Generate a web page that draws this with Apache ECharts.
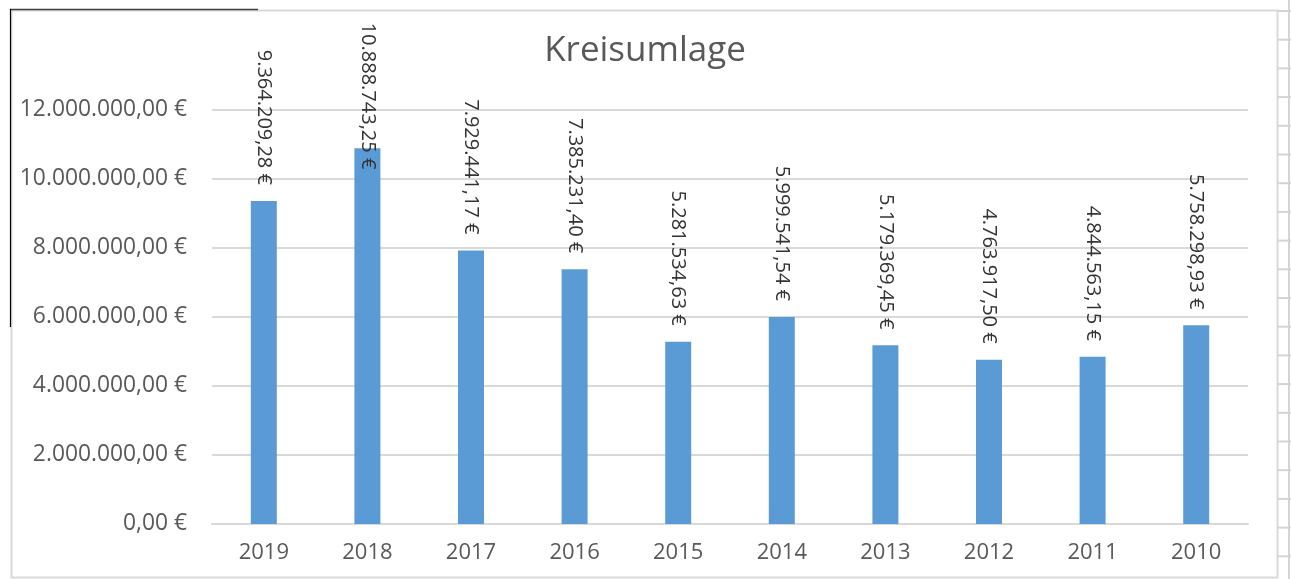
<!DOCTYPE html>
<html>
<head>
<meta charset="utf-8">
<script src="https://cdn.jsdelivr.net/npm/echarts@6/dist/echarts.min.js"></script>
<style>
html,body{margin:0;padding:0;background:#fff;}
#chart{width:1291px;height:579px;}
</style>
</head>
<body>
<div id="chart"></div>
<script>
const categories = ['2019','2018','2017','2016','2015','2014','2013','2012','2011','2010'];
const values = [9364209.28, 10888743.25, 7929441.17, 7385231.40, 5281534.63, 5999541.54, 5179369.45, 4763917.50, 4844563.15, 5758298.93];
const yTicks = [0, 2000000, 4000000, 6000000, 8000000, 10000000, 12000000];
const titleText = 'Kreisumlage';

function fmtEuro(v){
  const parts = v.toFixed(2).split('.');
  const intPart = parts[0].replace(/\B(?=(\d{3})+(?!\d))/g, '.');
  return intPart + ',' + parts[1] + ' €';
}

const FONT = 'Open Sans';
const chart = echarts.init(document.getElementById('chart'), null, {renderer:'canvas'});

const seriesData = values.map((v, i) => {
  const item = {value: v};
  if (i === 1) item.label = {distance: -21};
  return item;
});

// decoration: chart frame and spreadsheet cells at the right edge
const graphics = [
  {type:'rect', shape:{x:11.5,y:10.5,width:1266,height:567}, style:{fill:null, stroke:'#d9d9d9', lineWidth:2}, z:-1, silent:true},
  {type:'line', shape:{x1:10,y1:9.5,x2:258,y2:9.5}, style:{stroke:'#404040', lineWidth:1.5}, silent:true},
  {type:'line', shape:{x1:10.5,y1:9,x2:10.5,y2:327}, style:{stroke:'#000000', lineWidth:1.2}, silent:true},
  {type:'line', shape:{x1:1289,y1:0,x2:1289,y2:579}, style:{stroke:'#d4d4d4', lineWidth:2}, silent:true},
];
for (let k = 0; k < 20; k++) {
  const y = 11 + k * 28.7;
  graphics.push({type:'line', shape:{x1:1278,y1:y,x2:1291,y2:y}, style:{stroke:'#d4d4d4', lineWidth:2}, silent:true});
}

chart.setOption({
  animation:false,
  backgroundColor:'#ffffff',
  title:{
    text:titleText, left:640, textAlign:'center', top:29,
    textStyle:{fontFamily:FONT, fontSize:35, fontWeight:'normal', color:'#595959'}
  },
  grid:{left:212, right:43, top:110, bottom:55, containLabel:false},
  xAxis:{
    type:'category', data:categories,
    axisLine:{show:true, lineStyle:{color:'#d9d9d9', width:2}},
    axisTick:{show:false},
    axisLabel:{fontFamily:FONT, fontSize:22, color:'#595959', margin:18}
  },
  yAxis:{
    type:'value', min:0, max:12000000, interval:2000000,
    axisLine:{show:false}, axisTick:{show:false},
    splitLine:{lineStyle:{color:'#d9d9d9', width:2}},
    axisLabel:{fontFamily:FONT, fontSize:22.8, color:'#595959', margin:25,
      formatter:function(v){ return yTicks.indexOf(v) >= 0 ? fmtEuro(v) : ''; }}
  },
  series:[{
    type:'bar', data:seriesData, barWidth:26,
    itemStyle:{color:'#5b9bd5'},
    label:{
      show:true, position:'top', distance:16, rotate:-90,
      align:'right', verticalAlign:'middle',
      fontFamily:FONT, fontSize:20, color:'#333333',
      formatter:function(p){ return fmtEuro(p.value); }
    }
  }],
  graphic:graphics
});
</script>
</body>
</html>
